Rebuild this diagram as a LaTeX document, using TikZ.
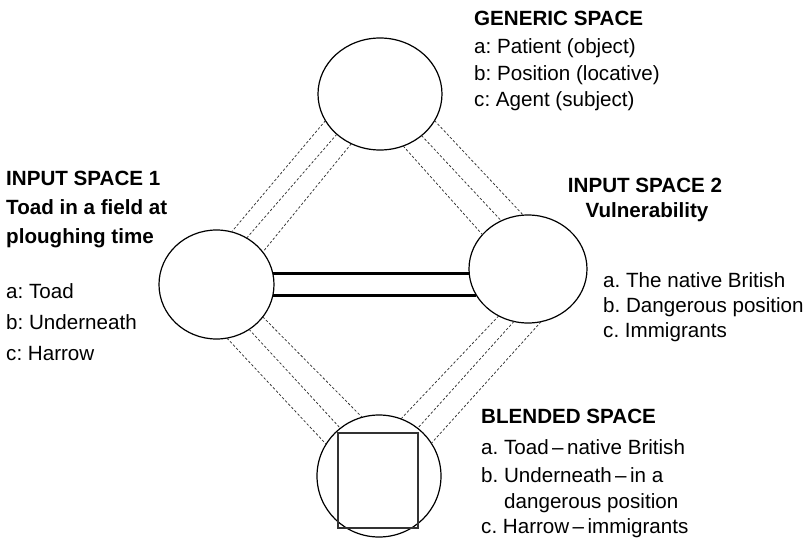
\documentclass[tikz,border=0pt]{standalone}
\usepackage{fontspec}
\setmainfont{Liberation Sans}
\usetikzlibrary{shapes.geometric}
\frenchspacing
\begin{document}
\begin{tikzpicture}[x=1pt,y=-1pt,
  space/.style={draw, ellipse, inner sep=0pt, outer sep=0pt, line width=1.2pt},
  blendbox/.style={draw=black!80, rectangle, inner sep=0pt, outer sep=0pt, line width=1.4pt},
  mapline/.style={line width=0.75pt, dash pattern=on 2.5pt off 2pt, black!80},
  link/.style={line width=3.2pt},
  txt/.style={anchor=base west, inner sep=0pt, font=\fontsize{20.6}{24}\selectfont\frenchspacing},
  head/.style={txt, font=\fontsize{20.6}{24}\selectfont\bfseries\frenchspacing},
  chead/.style={head, anchor=base},
]
\useasboundingbox (0,0) rectangle (812,538);

% spaces
\node[space, minimum width=124pt, minimum height=112pt] (gen) at (380,94) {};
\node[space, minimum width=115pt, minimum height=109pt] (in1) at (216.5,284.5) {};
\node[space, minimum width=118pt, minimum height=108pt] (in2) at (528,269) {};
\node[space, minimum width=124pt, minimum height=122pt] (bl) at (379,476) {};
\node[blendbox, minimum width=80pt, minimum height=95pt] (sq) at (378,480.5) {};

% cross-space links
\draw[link] (in1.11.6) -- (in1.11.6 -| in2.183.9);
\draw[link] (in1.-11.6) -- (in1.-11.6 -| in2.207.85);

% generic -> input 1
\draw[mapline] (gen.206) -- (in1.74);
\draw[mapline] (gen.223) -- (in1.57);
\draw[mapline] (gen.240.5) -- (in1.35);
% generic -> input 2
\draw[mapline] (gen.294.4) -- (in2.143.5);
\draw[mapline] (gen.315.7) -- (in2.119.7);
\draw[mapline] (gen.334) -- (in2.95.3);
% input 1 -> blend
\draw[mapline] (in1.281) -- (bl.149);
\draw[mapline] (in1.306) -- (bl.129.4);
\draw[mapline] (in1.325) -- (bl.106.4);
% input 2 -> blend
\draw[mapline] (in2.238) -- (bl.69);
\draw[mapline] (in2.255.5) -- (bl.51);
\draw[mapline] (in2.284.5) -- (bl.32);

% generic space text
\node[head] (genT) at (474,25) {GENERIC SPACE};
\node[txt] (genA) at (474,53) {a: Patient (object)};
\node[txt] (genB) at (474,80) {b: Position (locative)};
\node[txt] (genC) at (474,106) {c: Agent (subject)};

% input space 1 text
\node[head] (inaT) at (6,185) {INPUT SPACE 1};
\node[head] (inaT2) at (6,214) {Toad in a field at};
\node[head] (inaT3) at (6,243) {ploughing time};
\node[txt] (inaA) at (6,298) {a: Toad};
\node[txt] (inaB) at (6,329) {b: Underneath};
\node[txt] (inaC) at (6,360) {c: Harrow};

% input space 2 text
\node[chead] (inbT) at (645,192) {INPUT SPACE 2};
\node[chead] (inbT2) at (647,217) {Vulnerability};
\node[txt] (inbA) at (603,287) {a. The native British};
\node[txt] (inbB) at (603,312) {b. Dangerous position};
\node[txt] (inbC) at (603,337) {c. Immigrants};

% blended space text
\node[head] (blT) at (481,423) {BLENDED SPACE};
\node[txt] (blA) at (481,454) {a. Toad\,–\,native British};
\node[txt] (blB) at (481,482) {b. Underneath\,–\,in a};
\node[txt] (blB2) at (504,508) {dangerous position};
\node[txt] (blC) at (481,533) {c. Harrow\,–\,immigrants};
\end{tikzpicture}
\end{document}
